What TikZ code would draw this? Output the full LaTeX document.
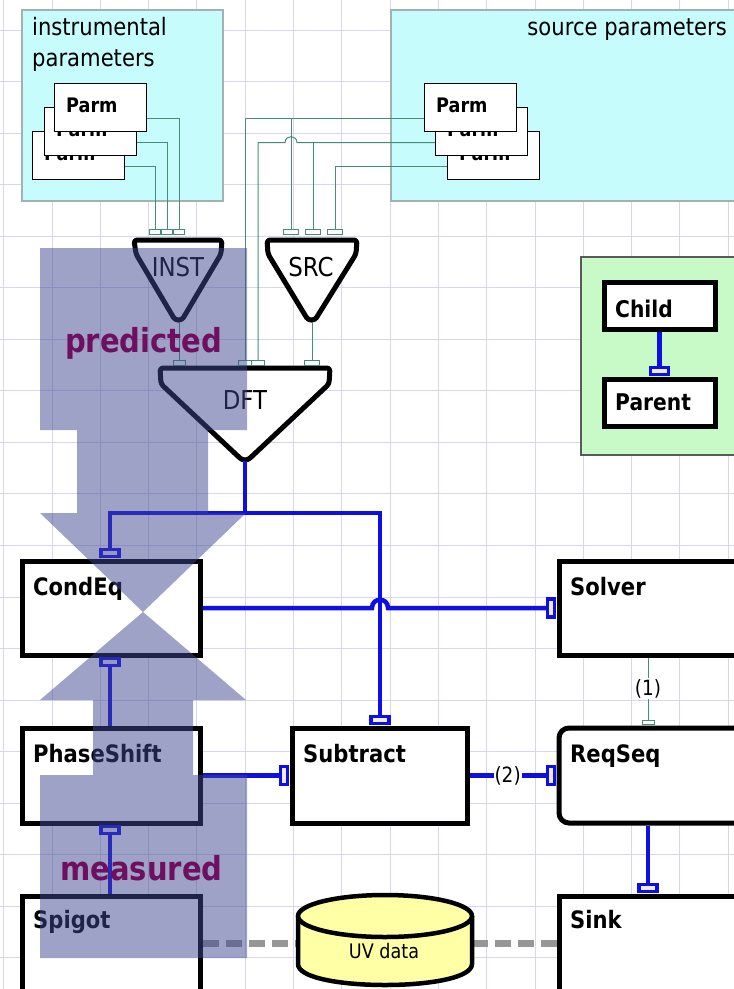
\documentclass[tikz,border=0pt]{standalone}
\usepackage{fontspec}
\setmainfont{DejaVu Sans}[FakeStretch=0.88]
\usetikzlibrary{calc}

\definecolor{gridlav}{RGB}{214,214,240}
\definecolor{paramcyan}{RGB}{198,252,252}
\definecolor{paramedge}{RGB}{160,178,178}
\definecolor{legendgreen}{RGB}{200,250,200}
\definecolor{legendedge}{RGB}{90,90,90}
\definecolor{wireblue}{RGB}{15,15,228}
\definecolor{wireteal}{RGB}{70,140,120}
\definecolor{portfill}{RGB}{235,235,250}
\definecolor{linkgrey}{RGB}{150,150,150}
\definecolor{uvyellow}{RGB}{255,255,165}
\definecolor{flowshade}{RGB}{65,71,145}
\definecolor{flowtext}{RGB}{110,15,95}

\newcommand{\pxfont}[1]{\fontsize{#1}{#1}\selectfont}

\tikzset{
  gridline/.style={draw=gridlav, line width=1},
  parambox/.style={fill=paramcyan, draw=paramedge, line width=1.2},
  grouptitle/.style={inner sep=0, font=\pxfont{24}},
  parmbox/.style={draw=black, fill=white, line width=1.3, minimum width=92,
    minimum height=48, inner sep=0, anchor=north west},
  parmtext/.style={anchor=base west, inner sep=0, font=\pxfont{20}\bfseries},
  block/.style={draw=black, fill=white, line width=5, inner sep=0},
  blocktext/.style={anchor=base west, inner sep=0, font=\pxfont{24}\bfseries},
  opshape/.style={draw=black, fill=white, line width=5, line join=round, rounded corners=3},
  optext/.style={inner sep=0, font=\pxfont{26}},
  thinwire/.style={draw=wireteal, line width=1},
  thinport/.style={draw=wireteal, fill=white, line width=1, inner sep=0, minimum height=5},
  bluewire/.style={draw=wireblue, line width=4.5},
  hport/.style={draw=wireblue, fill=portfill, line width=3.5, inner sep=0,
    minimum width=18, minimum height=7},
  vport/.style={draw=wireblue, fill=portfill, line width=3.5, inner sep=0,
    minimum width=7, minimum height=18},
  datalink/.style={draw=linkgrey, line width=7, dash pattern=on 16 off 7},
  flow/.style={fill=flowshade, fill opacity=0.5},
  flowlabel/.style={anchor=base west, inner sep=0, text=flowtext, font=\pxfont{33}\bfseries},
  wirelabel/.style={fill=white, inner sep=1, font=\pxfont{21}},
}

\begin{document}
\begin{tikzpicture}[x=1pt, y=-1pt]
\useasboundingbox (0,0) rectangle (734,989);
\clip (0,0) rectangle (734,989);
\fill[white] (0,0) rectangle (734,989);

% background grid
\foreach \k in {0,...,15}
  \draw[gridline] (3.7+48.3*\k,0) -- (3.7+48.3*\k,989);
\foreach \k in {0,...,18}
  \draw[gridline] (0,30+51.55*\k) -- (734,30+51.55*\k);

% parameter groups
\path[parambox] (22,10) rectangle (223,201);
\path[parambox] (391,10) rectangle (745,201);
\node[grouptitle, anchor=base west] (instTitleA) at (32,35) {instrumental};
\node[grouptitle, anchor=base west] (instTitleB) at (32,66) {parameters};
\node[grouptitle, anchor=base east] (srcTitle) at (727,35) {source parameters};

% legend
\path[fill=legendgreen, draw=legendedge, line width=1.2] (581,257) rectangle (745,455);

% instrumental parameter stack
\node[parmbox] (parmL3) at (32,131) {};
\node[parmtext] (parmL3t) at (44,160) {Parm};
\node[parmbox] (parmL2) at (44,107) {};
\node[parmtext] (parmL2t) at (56,136) {Parm};
\node[parmbox] (parmL1) at (54,83) {};
\node[parmtext] (parmL1t) at (66,112) {Parm};

% source parameter stack
\node[parmbox] (parmR3) at (447,131) {};
\node[parmtext] (parmR3t) at (459,160) {Parm};
\node[parmbox] (parmR2) at (435,107) {};
\node[parmtext] (parmR2t) at (447,136) {Parm};
\node[parmbox] (parmR1) at (424,83) {};
\node[parmtext] (parmR1t) at (436,112) {Parm};

% operator triangles
\path[opshape] (134,240) -- (222,240) -- (221,254) -- (182,320) -- (175,320) -- (136,254) -- cycle;
\coordinate (instTip) at (179,322);
\node[optext] (instText) at (178,267) {INST};

\path[opshape] (267,240) -- (357,240) -- (356,254) -- (315,320) -- (308,320) -- (268,254) -- cycle;
\coordinate (srcTip) at (312,322);
\node[optext] (srcText) at (311,267) {SRC};

\path[opshape] (160,368) -- (330,368) -- (329,384) -- (248,460) -- (242,460) -- (161,384) -- cycle;
\coordinate (dftTip) at (245,461);
\node[optext] (dftText) at (245,400) {DFT};

% thin parameter ports
\node[thinport, minimum width=11] (instA) at (155,232) {};
\node[thinport, minimum width=11] (instB) at (167,232) {};
\node[thinport, minimum width=11] (instC) at (179,232) {};
\node[thinport, minimum width=15] (srcA) at (291,232) {};
\node[thinport, minimum width=15] (srcB) at (313,232) {};
\node[thinport, minimum width=15] (srcC) at (335,232) {};
\node[thinport, minimum width=12] (dftA) at (179,363) {};
\node[thinport, minimum width=14] (dftB) at (245,363) {};
\node[thinport, minimum width=13] (dftC) at (258,363) {};
\node[thinport, minimum width=15] (dftD) at (312,363) {};

% thin parameter wires
\coordinate (l1out) at ([yshift=-11pt]parmL1.east);
\coordinate (l2out) at ([yshift=-11pt]parmL2.east);
\coordinate (l3out) at ([yshift=-11pt]parmL3.east);
\coordinate (r1out) at ([yshift=-11pt]parmR1.west);
\coordinate (r2out) at ([yshift=-11pt]parmR2.west);
\coordinate (r3out) at ([yshift=-11pt]parmR3.west);
\draw[thinwire] (l1out) -| (instC.north);
\draw[thinwire] (l2out) -| (instB.north);
\draw[thinwire] (l3out) -| (instA.north);
\draw[thinwire] (r1out) -| (dftB.north);
\draw[thinwire] (srcA.north |- r1out) -- (srcA.north);
\coordinate (hopA) at (srcA.north |- r2out);
\draw[thinwire] (r2out) -- ($(hopA)+(6,0)$)
  .. controls ($(hopA)+(6,-8)$) and ($(hopA)+(-6,-8)$) .. ($(hopA)+(-6,0)$)
  -- (dftC.north |- r2out) -- (dftC.north);
\draw[thinwire] (srcB.north |- r2out) -- (srcB.north);
\draw[thinwire] (r3out) -| (srcC.north);
\draw[thinwire] (instTip) -- (dftA.north);
\draw[thinwire] (srcTip) -- (dftD.north);

% data links to the UV data store
\coordinate (uvW) at (298,943);
\coordinate (uvE) at (472,943);

% processing blocks
\node[block, minimum width=178, minimum height=94] (condeq) at (111,608) {};
\node[block, minimum width=178, minimum height=95] (phaseshift) at (111,775.5) {};
\node[block, minimum width=178, minimum height=104] (spigot) at (111,948) {};
\node[block, minimum width=175, minimum height=95] (subtract) at (379.5,775.5) {};
\node[block, minimum width=211, minimum height=94] (solver) at (664.5,608) {};
\node[block, rounded corners=10, minimum width=211, minimum height=95] (reqseq) at (664.5,775.5) {};
\node[block, minimum width=211, minimum height=104] (sink) at (664.5,948) {};
\node[block, minimum width=111, minimum height=47] (child) at (659.5,305.5) {};
\node[block, minimum width=111, minimum height=47] (parent) at (659.5,402.5) {};

\draw[datalink] (spigot.east |- uvW) -- (uvW);
\draw[datalink] (uvE) -- (sink.west |- uvE);

\node[blocktext] (condeqText) at (33,595) {CondEq};
\node[blocktext] (phaseshiftText) at (33,762) {PhaseShift};
\node[blocktext] (spigotText) at (33,928) {Spigot};
\node[blocktext] (subtractText) at (303,762) {Subtract};
\node[blocktext] (solverText) at (570,595) {Solver};
\node[blocktext] (reqseqText) at (570,762) {ReqSeq};
\node[blocktext] (sinkText) at (570,928) {Sink};
\node[blocktext, font=\pxfont{23}\bfseries] (childText) at (615,317) {Child};
\node[blocktext, font=\pxfont{23}\bfseries] (parentText) at (615,410) {Parent};

% UV data store
\filldraw[fill=uvyellow, draw=black, line width=4.5]
  (298,916) -- (298,964) .. controls (298,992) and (472,992) .. (472,964) -- (472,916);
\filldraw[fill=uvyellow, draw=black, line width=4.5] (385,916) ellipse [x radius=87, y radius=21];
\node[inner sep=0, font=\pxfont{20}] (uvText) at (384,951) {UV data};

% blue ports
\node[hport] (cqTop) at (110,553) {};
\node[hport] (cqBot) at (110,662) {};
\node[hport] (psBot) at (110,830) {};
\node[hport] (subTop) at (380,720) {};
\node[vport] (subLeft) at (284,775.5) {};
\node[vport] (solverLeft) at (551,608) {};
\node[vport] (rqLeft) at (551,775.5) {};
\node[hport] (sinkTop) at (648,888) {};
\node[hport] (parentTop) at (659.5,371) {};
\node[thinport, minimum width=12, minimum height=4] (rqTop) at (648,722) {};

% blue wires
\coordinate (split) at (245,513);
\draw[bluewire] (dftTip) -- (split) -| (cqTop.north);
\draw[bluewire] (split) -| (subTop.north);
\coordinate (hopB) at (subTop.north |- condeq.east);
\draw[bluewire] (condeq.east) -- ($(hopB)+(-8,0)$)
  .. controls ($(hopB)+(-8,-11)$) and ($(hopB)+(8,-11)$) .. ($(hopB)+(8,0)$)
  -- (solverLeft.west);
\draw[bluewire] (cqBot.south |- phaseshift.north) -- (cqBot.south);
\draw[bluewire] (psBot.south |- spigot.north) -- (psBot.south);
\draw[bluewire] (phaseshift.east) -- (subLeft.west);
\draw[bluewire] (subtract.east) -- node[wirelabel] (lbl2) {(2)} (rqLeft.west);
\draw[thinwire] (rqTop.north |- solver.south) -- node[wirelabel] (lbl1) {(1)} (rqTop.north);
\draw[bluewire] (sinkTop.north |- reqseq.south) -- (sinkTop.north);
\draw[bluewire] (parentTop.north |- child.south) -- (parentTop.north);

% data flow arrows
\path[flow] (40,248) -- (247,248) -- (247,430) -- (208,430) -- (208,513) -- (246,513)
  -- (143,612) -- (40,513) -- (77,513) -- (77,430) -- (40,430) -- cycle;
\path[flow] (143,612) -- (246,700) -- (193,700) -- (193,775) -- (247,775) -- (247,958)
  -- (40,958) -- (40,775) -- (93,775) -- (93,700) -- (40,700) -- cycle;
\node[flowlabel] (predictedText) at (65,352) {predicted};
\node[flowlabel] (measuredText) at (60,880) {measured};
\end{tikzpicture}
\end{document}
